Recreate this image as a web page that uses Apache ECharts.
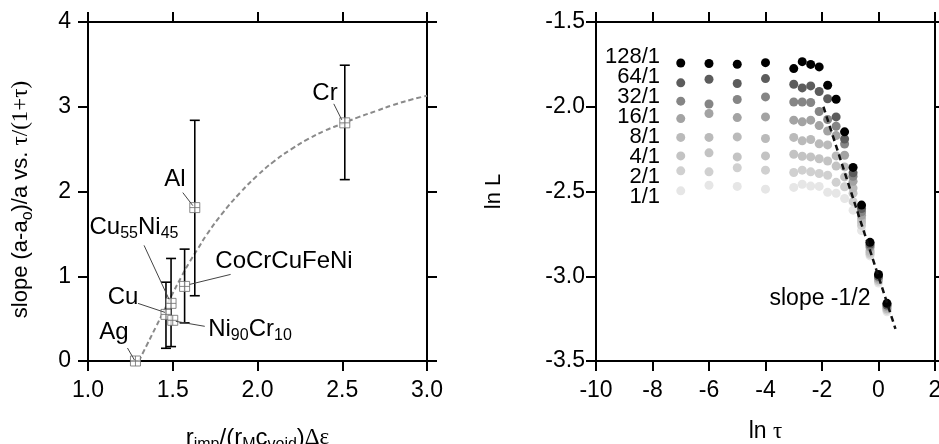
<!DOCTYPE html>
<html><head><meta charset="utf-8">
<script src="https://cdn.jsdelivr.net/npm/echarts@6/dist/echarts.min.js"></script>
<style>html,body{margin:0;padding:0;background:#fff}#c{width:939px;height:444px}</style>
</head><body><div id="c"></div>
<script>
// ---------- Left panel data ----------
const alloyLabels = ['Ag', 'Cu', 'Cu{s|55}Ni{s|45}', 'Ni{s|90}Cr{s|10}', 'CoCrCuFeNi', 'Al', 'Cr'];
const alloyX = [1.28, 1.46, 1.49, 1.50, 1.57, 1.63, 2.515];
const alloyY = [0.00, 0.55, 0.68, 0.48, 0.88, 1.81, 2.81];
const errLow  = [null, 0.15, 0.17, null, 0.45, 0.77, 2.14];
const errHigh = [null, 0.93, 1.21, null, 1.32, 2.84, 3.49];
const fitX = [1.30, 1.35, 1.40, 1.45, 1.50, 1.55, 1.60, 1.65, 1.70, 1.80, 1.90, 2.00, 2.10, 2.20, 2.30, 2.40, 2.50, 2.60, 2.70, 2.80, 2.90, 3.00];
const fitY = [0.00, 0.20, 0.40, 0.60, 0.80, 0.99, 1.17, 1.33, 1.49, 1.76, 1.99, 2.19, 2.36, 2.50, 2.62, 2.72, 2.80, 2.88, 2.95, 3.02, 3.08, 3.13];

// ---------- Right panel data ----------
const lnTau = [-7, -6, -5, -4, -3, -2.7, -2.4, -2.1, -1.8, -1.5, -1.2, -0.9, -0.6, -0.3, 0, 0.3];
const ratioLabels = ['128/1', '64/1', '32/1', '16/1', '8/1', '4/1', '2/1', '1/1'];
const s128 = [-1.742, -1.745, -1.749, -1.740, -1.775, -1.734, -1.750, -1.765, -1.873, -1.956, -2.148, -2.358, -2.58, -2.80, -2.99, -3.16];
const s64  = [-1.859, -1.838, -1.863, -1.834, -1.867, -1.889, -1.877, -1.910, -1.953, -2.060, -2.190, -2.390, -2.60, -2.81, -3.00, -3.17];
const s32  = [-1.967, -1.984, -1.957, -1.942, -1.972, -1.972, -1.975, -2.028, -2.075, -2.115, -2.220, -2.410, -2.62, -2.82, -3.00, -3.17];
const s16  = [-2.070, -2.040, -2.064, -2.060, -2.079, -2.089, -2.079, -2.111, -2.143, -2.170, -2.286, -2.440, -2.64, -2.83, -3.01, -3.18];
const s8   = [-2.181, -2.181, -2.178, -2.187, -2.181, -2.201, -2.193, -2.219, -2.225, -2.290, -2.355, -2.480, -2.66, -2.85, -3.02, -3.19];
const s4   = [-2.290, -2.272, -2.296, -2.290, -2.280, -2.292, -2.296, -2.307, -2.320, -2.350, -2.414, -2.510, -2.68, -2.86, -3.02, -3.19];
const s2   = [-2.378, -2.384, -2.360, -2.374, -2.388, -2.374, -2.384, -2.394, -2.404, -2.446, -2.472, -2.560, -2.70, -2.87, -3.03, -3.20];
const s1   = [-2.496, -2.463, -2.470, -2.486, -2.476, -2.457, -2.468, -2.470, -2.505, -2.510, -2.541, -2.610, -2.73, -2.88, -3.04, -3.21];
const ratioSeries = [s128, s64, s32, s16, s8, s4, s2, s1];
const slopeLineX = [-1.95, 0.6];
const slopeLineY = [-2.0, -3.31];

// ---------- Styles ----------
const FONT = 'Liberation Sans, Arial, sans-serif';
const SERIF = 'Liberation Serif, Times New Roman, serif';
const grays = ['#000000', '#5c5c5c', '#858585', '#a3a3a3', '#bababa', '#c3c3c3', '#d0d0d0', '#e6e6e6'];
// label centre offset from its square (px)
const labelOffsets = [[-21, -29], [-43, -17], [-37, -76], [77, 9], [99, -25], [-20, -29], [-20, -30]];
// leader line: start offset (label side) and end offset (square side), px
const leaderOffsets = [[-8, -13, -1, -1], [-28, -11, -1, -2], [-27, -58, -2, -4], [32, 6, 3, 1], [46, -12, 5, -2], [-12, -15, -2, -2], [-11, -19, -3, -3]];

const sub = {fontSize: 16, lineHeight: 16, verticalAlign: 'bottom', fontFamily: FONT, color: '#000', fill: '#000'};
const richBase = {s: sub, t: {fontSize: 23, lineHeight: 30, fontFamily: SERIF, color: '#000', fill: '#000'}};

function axisCommon(extra) {
  return Object.assign({
    type: 'value',
    axisLine: {show: true, onZero: false, lineStyle: {color: '#000', width: 2}},
    axisTick: {show: true, inside: false, length: 10, lineStyle: {color: '#000', width: 2}},
    splitLine: {show: false},
    axisLabel: {show: false}
  }, extra);
}
const tickLabel = (fmt, margin) => ({show: true, margin: margin, fontSize: 23, color: '#000', fontFamily: FONT, formatter: fmt, showMinLabel: true, showMaxLabel: true, hideOverlap: false});
const nameStyle = (size, pad) => ({fontSize: size, lineHeight: 30, color: '#000', fontFamily: FONT, rich: richBase, padding: pad});

const errData = [];
for (let i = 0; i < alloyX.length; i++) {
  if (errLow[i] !== null) errData.push([alloyX[i], errLow[i], errHigh[i]]);
}

const series = [];
series.push({
  type: 'line', xAxisIndex: 0, yAxisIndex: 0, showSymbol: false, smooth: true, z: 1,
  data: fitX.map((x, i) => [x, fitY[i]]),
  lineStyle: {color: '#8a8a8a', width: 2, type: [5, 3]}
});
series.push({
  type: 'custom', xAxisIndex: 0, yAxisIndex: 0, z: 2, data: errData,
  renderItem: function (params, api) {
    const x = api.value(0);
    const pLo = api.coord([x, api.value(1)]);
    const pHi = api.coord([x, api.value(2)]);
    const w = 5;
    const st = {stroke: '#000', lineWidth: 1.6};
    return {type: 'group', children: [
      {type: 'line', shape: {x1: pLo[0], y1: pLo[1], x2: pHi[0], y2: pHi[1]}, style: st},
      {type: 'line', shape: {x1: pLo[0] - w, y1: pLo[1], x2: pLo[0] + w, y2: pLo[1]}, style: st},
      {type: 'line', shape: {x1: pHi[0] - w, y1: pHi[1], x2: pHi[0] + w, y2: pHi[1]}, style: st}
    ]};
  }
});
series.push({
  type: 'scatter', xAxisIndex: 0, yAxisIndex: 0, z: 3,
  data: alloyX.map((x, i) => [x, alloyY[i]]),
  symbol: 'path://M0,0L10,0L10,10L0,10Z M5,0L5,10 M0,5L10,5',
  symbolSize: 10,
  itemStyle: {color: '#fff', borderColor: '#6a6a6a', borderWidth: 1},
  emphasis: {disabled: true}
});
// text labels with leader lines, anchored to each alloy point
series.push({
  type: 'custom', xAxisIndex: 0, yAxisIndex: 0, z: 4,
  data: alloyX.map((x, i) => [x, alloyY[i], i]),
  renderItem: function (params, api) {
    const i = api.value(2);
    const p = api.coord([api.value(0), api.value(1)]);
    const o = labelOffsets[i], l = leaderOffsets[i];
    return {type: 'group', children: [
      {type: 'line', shape: {x1: p[0] + l[0], y1: p[1] + l[1], x2: p[0] + l[2], y2: p[1] + l[3]},
        style: {stroke: '#444', lineWidth: 1}},
      {type: 'text', x: Math.round(p[0] + o[0]), y: Math.round(p[1] + o[1]),
        style: {text: alloyLabels[i], fill: '#000', fontSize: 24, fontFamily: FONT, lineHeight: 30,
          align: 'center', verticalAlign: 'middle', rich: {s: sub}}}
    ]};
  }
});
for (let k = ratioSeries.length - 1; k >= 0; k--) {
  series.push({
    type: 'scatter', xAxisIndex: 2, yAxisIndex: 2, z: 3,
    data: lnTau.map((x, i) => [x, ratioSeries[k][i]]),
    symbol: 'circle', symbolSize: 9,
    itemStyle: {color: grays[k], opacity: 1}
  });
}
series.push({
  type: 'line', xAxisIndex: 2, yAxisIndex: 2, showSymbol: false, z: 5,
  data: slopeLineX.map((x, i) => [x, slopeLineY[i]]),
  lineStyle: {color: '#111', width: 2.5, type: [6, 4]}
});

const option = {
  animation: false,
  backgroundColor: '#fff',
  grid: [
    {left: 88, top: 22, width: 339, height: 339, containLabel: false, outerBoundsMode: 'none'},
    {left: 596, top: 22, width: 339, height: 339, containLabel: false, outerBoundsMode: 'none'}
  ],
  xAxis: [
    axisCommon({gridIndex: 0, position: 'bottom', min: 1, max: 3, interval: 0.5,
      axisLabel: tickLabel(v => v.toFixed(1), 18),
      name: 'r{s|imp}/(r{s|M}c{s|void}){t|Δε}', nameLocation: 'middle', nameGap: 62, nameTextStyle: nameStyle(24, 0)}),
    axisCommon({gridIndex: 0, position: 'top', min: 1, max: 3, interval: 0.5}),
    axisCommon({gridIndex: 1, position: 'bottom', min: -10, max: 2, interval: 2,
      axisLabel: tickLabel(v => String(v), 18),
      name: 'ln {t|τ}', nameLocation: 'middle', nameGap: 56, nameTextStyle: nameStyle(23, 0)}),
    axisCommon({gridIndex: 1, position: 'top', min: -10, max: 2, interval: 2})
  ],
  yAxis: [
    axisCommon({gridIndex: 0, position: 'left', min: 0, max: 4, interval: 1,
      axisLabel: tickLabel(v => String(v), 17),
      name: 'slope (a-a{s|o})/a vs. {t|τ/(1+τ)}', nameLocation: 'middle', nameGap: 52, nameTextStyle: nameStyle(22, [0, 16, 0, 0])}),
    axisCommon({gridIndex: 0, position: 'right', min: 0, max: 4, interval: 1}),
    axisCommon({gridIndex: 1, position: 'left', min: -3.5, max: -1.5, interval: 0.5,
      axisLabel: tickLabel(v => v.toFixed(1), 11),
      name: 'ln L', nameLocation: 'middle', nameGap: 91, nameTextStyle: {fontSize: 22, color: '#000', fontFamily: FONT}}),
    axisCommon({gridIndex: 1, position: 'right', min: -3.5, max: -1.5, interval: 0.5})
  ],
  graphic: [
    {type: 'text', x: 660, y: 46.7, z: 10,
      style: {text: ratioLabels.join('\n'), font: '22px ' + FONT, fill: '#000', align: 'right', verticalAlign: 'top', textAlign: 'right', textVerticalAlign: 'top', lineHeight: 20}},
    {type: 'text', x: 820, y: 299, z: 10,
      style: {text: 'slope -1/2', font: '23px ' + FONT, fill: '#000', align: 'center', verticalAlign: 'middle', textAlign: 'center', textVerticalAlign: 'middle'}}
  ],
  series: series
};
const chart = echarts.init(document.getElementById('c'), null, {renderer: 'canvas'});
chart.setOption(option);
</script>
</body></html>
